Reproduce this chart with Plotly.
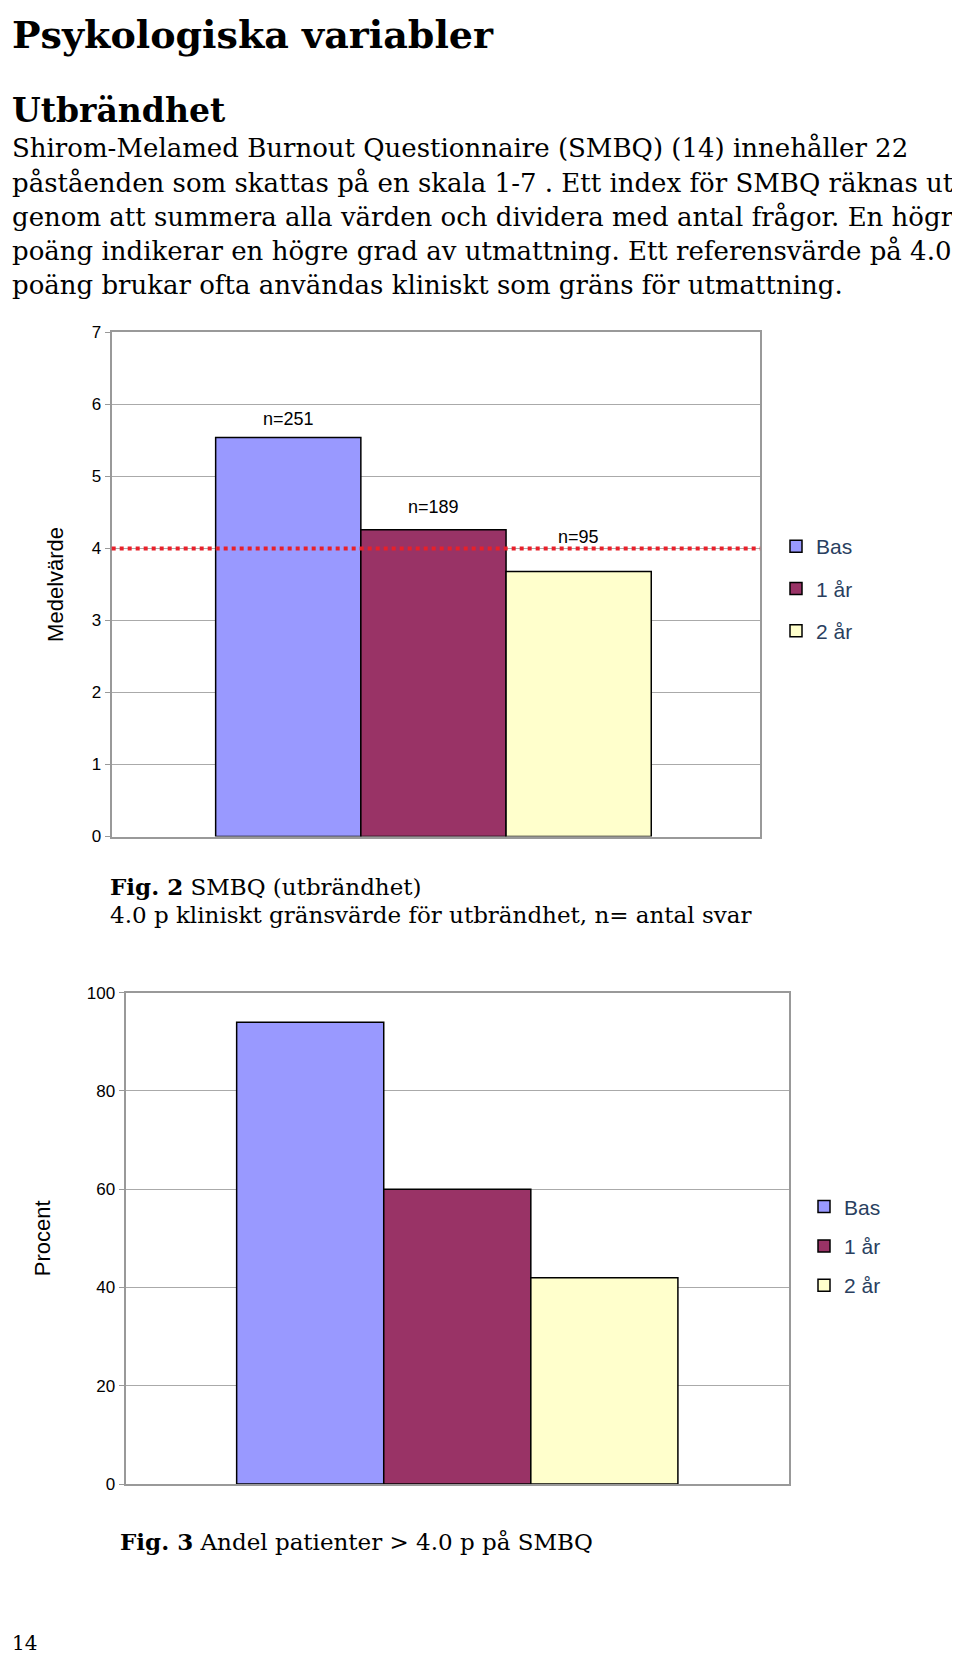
import plotly.graph_objects as go

# -------------------------------
# Data
# -------------------------------
serier = ["Bas", "1 år", "2 år"]
farger = ["#9999ff", "#993366", "#ffffcc"]
medelvarde = [5.54, 4.26, 3.68]
antal_svar = ["n=251", "n=189", "n=95"]
etikett_y = [5.8, 4.58, 4.16]
procent = [94, 60, 42]
gransvarde = 4.0

W, H = 960, 1659
SERIF = "DejaVu Serif"
SANS = "Liberation Sans"

fig = go.Figure()

for i, namn in enumerate(serier):
    fig.add_trace(go.Bar(x=[i], y=[medelvarde[i]], name=namn, width=1, legendgroup="a%d" % i,
                         marker=dict(color=farger[i], line=dict(color="black", width=1.5)),
                         xaxis="x", yaxis="y", legend="legend"))
for i, namn in enumerate(serier):
    fig.add_trace(go.Bar(x=[i], y=[procent[i]], name=namn, width=1, legendgroup="b%d" % i,
                         marker=dict(color=farger[i], line=dict(color="black", width=1.5)),
                         xaxis="x2", yaxis="y2", legend="legend2"))

axel = dict(showgrid=False, zeroline=False, showticklabels=False, ticks="",
            showline=True, linecolor="#999999", mirror=True, linewidth=2)
yaxel = dict(showgrid=True, gridcolor="#aaaaaa", gridwidth=1, zeroline=False,
             showline=True, linecolor="#999999", mirror=True, linewidth=2,
             ticks="outside", ticklen=5, tickcolor="#999999",
             tickfont=dict(family=SANS, size=17, color="black"))

fig.update_layout(
    width=W, height=H, margin=dict(l=0, r=0, t=0, b=0),
    paper_bgcolor="white", plot_bgcolor="white", barmode="overlay", showlegend=True,
    xaxis=dict(domain=[0.108, 0.7835], range=[-1.216, 3.25], **axel),
    yaxis=dict(domain=[1 - 829 / H, 1 - 319 / H], range=[0, 7], dtick=1,
               title=dict(text="Medelvärde", font=dict(family=SANS, size=22, color="black"), standoff=22),
               **yaxel),
    xaxis2=dict(domain=[0.1225, 0.8135], range=[-1.255, 3.255], anchor="y2", **axel),
    yaxis2=dict(domain=[1 - 1484 / H, 1 - 987 / H], range=[0, 100], dtick=20, anchor="x2",
                title=dict(text="Procent", font=dict(family=SANS, size=22, color="black"), standoff=30),
                **yaxel),
    legend=dict(x=768 / W, y=1 - 515 / H, xanchor="left", yanchor="top",
                font=dict(family=SANS, size=21), bgcolor="rgba(0,0,0,0)", tracegroupgap=12),
    legend2=dict(x=796 / W, y=1 - 1183 / H, xanchor="left", yanchor="top",
                 font=dict(family=SANS, size=21), bgcolor="rgba(0,0,0,0)", tracegroupgap=9),
)

# referenslinje 4.0
fig.add_shape(type="line", xref="x domain", yref="y", x0=0, x1=1, y0=gransvarde, y1=gransvarde,
              line=dict(color="#e8202a", width=4, dash="dot"))

for i, txt in enumerate(antal_svar):
    fig.add_annotation(x=i, y=etikett_y[i], xref="x", yref="y", text=txt, showarrow=False,
                       font=dict(family=SANS, size=18, color="black"))

# -------------------------------
# Texter
# -------------------------------
def text(t, x, y, size, bold=False):
    if bold:
        t = "<b>" + t + "</b>"
    fig.add_annotation(x=x / W, y=1 - y / H, xref="paper", yref="paper", text=t,
                       showarrow=False, xanchor="left", yanchor="middle", align="left",
                       font=dict(family=SERIF, size=size, color="black"))

text("Psykologiska variabler", 2, 18, 38, bold=True)
text("Utbrändhet", 2, 95, 33, bold=True)
rader = [
    "Shirom-Melamed Burnout Questionnaire (SMBQ) (14) innehåller 22",
    "påståenden som skattas på en skala 1-7 . Ett index för SMBQ räknas ut",
    "genom att summera alla värden och dividera med antal frågor. En högre",
    "poäng indikerar en högre grad av utmattning. Ett referensvärde på 4.0",
    "poäng brukar ofta användas kliniskt som gräns för utmattning.",
]
for k, r in enumerate(rader):
    text(r, 2, 133 + k * 34.5, 26)

text("<b>Fig. 2</b> SMBQ (utbrändhet)", 100, 880, 23)
text("4.0 p kliniskt gränsvärde för utbrändhet, n= antal svar", 100, 908, 23)
text("<b>Fig. 3</b> Andel patienter > 4.0 p på SMBQ", 110, 1542, 23)
text("14", 2, 1645, 20)

fig.write_html("out.html")
